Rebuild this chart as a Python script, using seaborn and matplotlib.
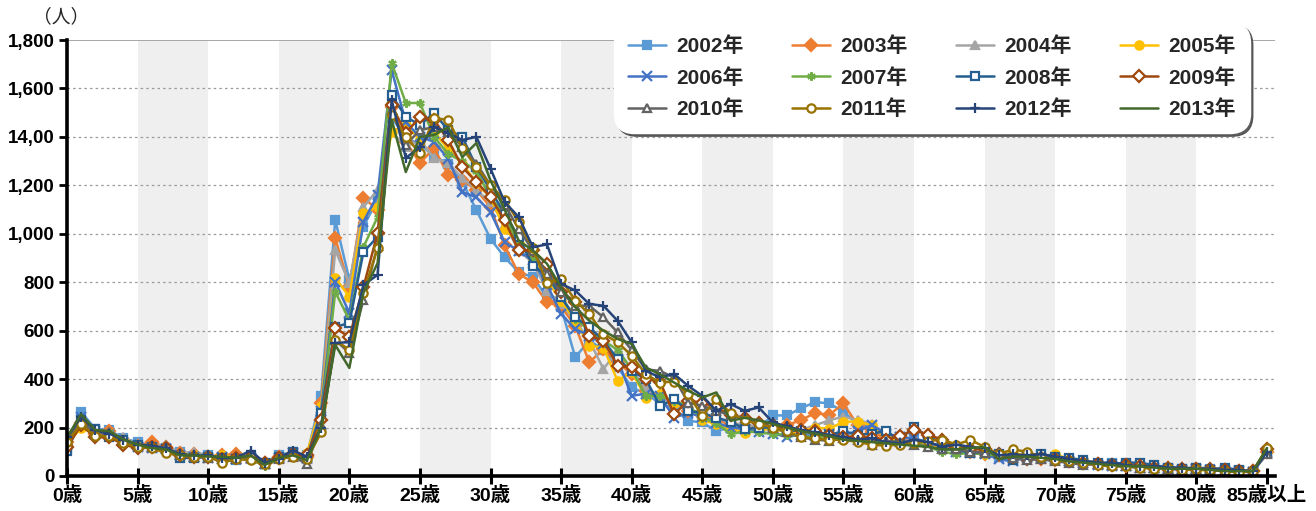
import seaborn as sns
import matplotlib.pyplot as plt
from matplotlib.ticker import MultipleLocator

# Age 0 .. 85 (85 = 85歳以上)
ages = list(range(86))
years = ["2002年", "2003年", "2004年", "2005年", "2006年", "2007年",
         "2008年", "2009年", "2010年", "2011年", "2012年", "2013年"]

y2002 = [110, 265, 195, 190, 155, 140, 125, 115, 100, 80, 85, 80, 65, 85, 55, 85, 100, 85, 330, 1057,
         810, 1030, 1140, 1480, 1395, 1370, 1320, 1290, 1214, 1098, 979, 903, 841, 821, 738, 697, 490, 560, 520, 450,
         366, 340, 300, 280, 228, 221, 186, 200, 195, 200, 250, 250, 280, 305, 300, 265, 215, 200, 170, 160,
         150, 140, 120, 110, 100, 95, 80, 75, 85, 80, 75, 70, 55, 50, 55, 50, 40, 35, 35, 30,
         35, 30, 25, 20, 15, 95]
y2003 = [140, 220, 175, 185, 150, 125, 140, 120, 95, 90, 80, 85, 90, 75, 55, 80, 90, 80, 300, 983,
         780, 1148, 1100, 1524, 1380, 1292, 1354, 1243, 1222, 1180, 1111, 952, 834, 800, 717, 700, 620, 469, 524, 470,
         420, 352, 330, 300, 270, 250, 230, 215, 205, 200, 195, 210, 231, 260, 252, 300, 210, 180, 160, 150,
         140, 130, 115, 110, 100, 90, 85, 80, 75, 70, 65, 60, 55, 50, 45, 40, 40, 35, 30, 30,
         30, 25, 25, 20, 20, 100]
y2004 = [130, 230, 180, 175, 160, 130, 120, 130, 95, 100, 85, 70, 80, 70, 50, 75, 90, 70, 280, 933,
         797, 1110, 1181, 1420, 1360, 1387, 1313, 1292, 1230, 1180, 1130, 1040, 930, 880, 765, 710, 640, 560, 441, 520,
         440, 360, 330, 300, 275, 260, 240, 220, 210, 205, 200, 195, 190, 210, 230, 245, 231, 215, 175, 160,
         150, 135, 120, 110, 105, 95, 90, 80, 75, 70, 65, 60, 55, 50, 45, 40, 35, 35, 30, 30,
         30, 30, 25, 20, 20, 95]
y2005 = [130, 200, 175, 170, 150, 125, 120, 110, 90, 85, 80, 85, 75, 80, 55, 80, 85, 95, 290, 818,
         740, 1086, 1111, 1420, 1450, 1390, 1420, 1350, 1290, 1210, 1150, 1020, 960, 900, 807, 724, 641, 538, 530, 393,
         430, 324, 340, 300, 280, 230, 215, 195, 179, 190, 195, 180, 185, 200, 195, 224, 225, 210, 160, 140,
         135, 125, 115, 110, 100, 90, 85, 95, 85, 80, 90, 70, 65, 55, 50, 45, 40, 35, 30, 30,
         25, 25, 25, 20, 20, 105]
y2006 = [150, 245, 185, 170, 140, 120, 115, 110, 85, 80, 75, 80, 70, 75, 50, 75, 95, 75, 270, 802,
         673, 1050, 1160, 1676, 1460, 1400, 1380, 1310, 1173, 1150, 1090, 965, 930, 890, 790, 669, 607, 580, 545, 480,
         331, 340, 330, 241, 260, 245, 220, 200, 195, 180, 175, 162, 170, 165, 175, 170, 185, 210, 175, 160,
         155, 140, 120, 100, 95, 90, 70, 60, 80, 75, 70, 60, 55, 45, 40, 40, 35, 35, 30, 25,
         30, 25, 20, 20, 15, 100]
y2007 = [155, 240, 190, 180, 150, 130, 125, 115, 90, 85, 80, 75, 80, 70, 40, 70, 85, 70, 240, 760,
         644, 946, 1069, 1705, 1540, 1540, 1400, 1330, 1300, 1260, 1150, 1080, 950, 900, 860, 740, 650, 600, 560, 520,
         440, 330, 330, 310, 290, 240, 220, 172, 185, 180, 175, 170, 165, 160, 165, 155, 150, 145, 150, 135,
         140, 120, 100, 90, 95, 90, 85, 80, 75, 70, 65, 60, 55, 50, 45, 40, 35, 35, 30, 30,
         25, 25, 20, 20, 20, 100]
y2008 = [105, 230, 195, 160, 150, 130, 120, 110, 75, 75, 80, 75, 70, 80, 55, 80, 100, 75, 260, 615,
         632, 925, 987, 1573, 1482, 1450, 1499, 1428, 1400, 1276, 1180, 1083, 986, 869, 828, 738, 655, 614, 560, 483,
         434, 400, 290, 317, 269, 260, 240, 225, 193, 200, 200, 190, 185, 175, 170, 185, 170, 175, 185, 150,
         204, 160, 140, 110, 95, 100, 90, 65, 80, 90, 80, 75, 65, 55, 50, 55, 55, 45, 35, 30,
         35, 25, 35, 25, 15, 105]
y2009 = [120, 210, 160, 160, 130, 115, 120, 115, 85, 80, 80, 70, 75, 80, 55, 75, 90, 85, 230, 611,
         574, 780, 1003, 1530, 1416, 1482, 1470, 1387, 1276, 1214, 1152, 1055, 931, 931, 876, 760, 720, 579, 559, 455,
         448, 400, 390, 255, 310, 303, 283, 250, 240, 220, 210, 200, 190, 185, 170, 160, 165, 155, 150, 165,
         190, 170, 150, 120, 110, 110, 90, 80, 70, 75, 70, 60, 55, 50, 45, 45, 40, 35, 35, 30,
         30, 30, 25, 20, 20, 110]
y2010 = [150, 225, 175, 180, 150, 130, 120, 115, 85, 80, 75, 70, 70, 75, 50, 70, 80, 50, 210, 562,
         508, 727, 950, 1511, 1367, 1428, 1441, 1420, 1360, 1290, 1200, 1120, 1020, 930, 834, 759, 703, 703, 655, 593,
         520, 440, 434, 407, 303, 290, 270, 250, 240, 220, 200, 180, 160, 150, 145, 155, 150, 130, 145, 140,
         130, 120, 110, 110, 100, 95, 100, 75, 65, 70, 60, 55, 45, 50, 45, 40, 35, 35, 30, 30,
         30, 35, 25, 20, 20, 90]
y2011 = [140, 215, 165, 165, 135, 120, 115, 95, 85, 80, 80, 55, 70, 65, 50, 70, 80, 70, 180, 562,
         520, 756, 941, 1490, 1400, 1333, 1478, 1470, 1354, 1276, 1200, 1141, 1048, 940, 796, 814, 724, 669, 586, 552,
         497, 420, 386, 390, 338, 248, 317, 260, 230, 215, 200, 185, 160, 155, 149, 150, 140, 130, 125, 130,
         135, 145, 150, 130, 149, 120, 90, 110, 100, 80, 65, 60, 55, 45, 40, 40, 35, 30, 35, 25,
         30, 25, 20, 15, 20, 115]
y2012 = [160, 245, 190, 175, 150, 130, 125, 115, 90, 85, 85, 75, 75, 105, 55, 70, 105, 80, 200, 549,
         553, 789, 830, 1552, 1313, 1358, 1441, 1416, 1387, 1400, 1269, 1131, 1069, 945, 956, 793, 766, 710, 703, 641,
         552, 434, 407, 421, 372, 331, 269, 297, 269, 283, 221, 205, 190, 180, 170, 160, 150, 155, 140, 135,
         150, 140, 120, 130, 120, 115, 85, 90, 85, 90, 80, 70, 60, 55, 55, 45, 40, 40, 35, 35,
         30, 30, 25, 25, 20, 100]
y2013 = [160, 255, 190, 185, 150, 130, 115, 110, 85, 85, 80, 80, 75, 85, 45, 75, 85, 65, 200, 541,
         446, 756, 879, 1470, 1255, 1400, 1408, 1440, 1317, 1375, 1220, 1100, 972, 931, 876, 779, 697, 641, 600, 566,
         545, 448, 420, 386, 352, 324, 345, 228, 240, 230, 215, 200, 185, 175, 165, 150, 145, 140, 135, 130,
         125, 120, 110, 110, 115, 120, 70, 80, 80, 75, 70, 60, 55, 50, 45, 40, 40, 35, 30, 30,
         30, 25, 20, 20, 20, 115]

series = [y2002, y2003, y2004, y2005, y2006, y2007, y2008, y2009, y2010, y2011, y2012, y2013]

colors = ["#5B9BD5", "#ED7D31", "#A5A5A5", "#FFC000", "#4472C4", "#70AD47",
          "#255E91", "#9E480E", "#636363", "#997300", "#264478", "#43682B"]
markers = ["s", "D", "^", "o", "x", (6, 2, 0), "s", "D", "^", "o", "+", None]
hollow = [False] * 6 + [True] * 4 + [False, False]

xtick_pos = list(range(0, 86, 5))
xtick_labels = [f"{a}歳" for a in range(0, 85, 5)] + ["85歳以上"]
ytick_pos = [0, 200, 400, 600, 800, 1000, 1200, 1400, 1600, 1800]
ytick_labels = ["0", "200", "400", "600", "800", "1,000", "1,200", "14,00", "1,600", "1,800"]

sns.set_style("white")
plt.rcParams["font.family"] = ["Liberation Sans", "Noto Sans CJK JP"]

fig = plt.figure(figsize=(13.16, 5.11), dpi=100)
ax = fig.add_axes([67 / 1316, 1 - 476 / 511, (1275 - 67) / 1316, 436 / 511])

# alternating background bands
for start in range(5, 80, 10):
    ax.axvspan(start, start + 5, color="#efefef", zorder=0, lw=0)

# gridlines
for v in ytick_pos[1:-1]:
    ax.axhline(v, color="#9a9a9a", lw=0.9, ls=(0, (2, 2.5)), zorder=1)
ax.axhline(1800, color="#9a9a9a", lw=1.2, zorder=1)

for vals, name, c, m, h in zip(series, years, colors, markers, hollow):
    kw = dict(color=c, lw=1.8, markeredgecolor=c, markeredgewidth=1.6, zorder=3)
    if m is not None:
        kw["marker"] = m
        kw["markersize"] = 6 if m not in ("x", "+") else 7
        kw["markerfacecolor"] = "white" if h else c
    sns.lineplot(x=ages, y=vals, ax=ax, label=name, **kw)

ax.set_xlim(0, 85.57)
ax.set_ylim(0, 1800)
ax.set_xlabel("")
ax.set_ylabel("")

ax.set_xticks(xtick_pos)
ax.set_xticklabels(xtick_labels, fontsize=14, fontweight="bold")
ax.xaxis.set_minor_locator(MultipleLocator(1))
ax.tick_params(axis="x", which="major", direction="inout", length=12, width=2.2, pad=1, colors="black")
ax.tick_params(axis="x", which="minor", direction="in", length=6, width=1.4, colors="black")
ax.set_yticks(ytick_pos)
ax.set_yticklabels(ytick_labels, fontsize=13.5, fontweight="bold")
ax.tick_params(axis="y", which="major", direction="out", length=6, width=2, pad=3, colors="black")
ax.tick_params(bottom=True, left=True)

for side in ["top", "right"]:
    ax.spines[side].set_visible(False)
for side in ["left", "bottom"]:
    ax.spines[side].set_color("black")
    ax.spines[side].set_linewidth(2.6)
    ax.spines[side].set_zorder(5)

fig.text(33 / 1316, 1 - 17 / 511, "（人）", fontsize=13.5, va="center", ha="left")

# legend in row-major order
handles, labels = ax.get_legend_handles_labels()
order = [0, 4, 8, 1, 5, 9, 2, 6, 10, 3, 7, 11]
leg = ax.legend([handles[i] for i in order], [labels[i] for i in order],
                ncol=4, loc="upper right", bbox_to_anchor=(1250 / 1316, 1 - 22 / 511),
                bbox_transform=fig.transFigure, frameon=True, fancybox=True,
                prop={"size": 15, "weight": "bold"},
                shadow={"color": "0.3", "alpha": 0.9}, handlelength=1.8, columnspacing=2.33,
                labelspacing=0.55, handletextpad=0.5, borderpad=0.7, borderaxespad=0)
frame = leg.get_frame()
frame.set_facecolor("white")
frame.set_edgecolor("white")
frame.set_alpha(1)
frame.set_boxstyle("round,pad=0,rounding_size=1.0")
leg.set_zorder(10)

fig.savefig("out.png", dpi=100)
